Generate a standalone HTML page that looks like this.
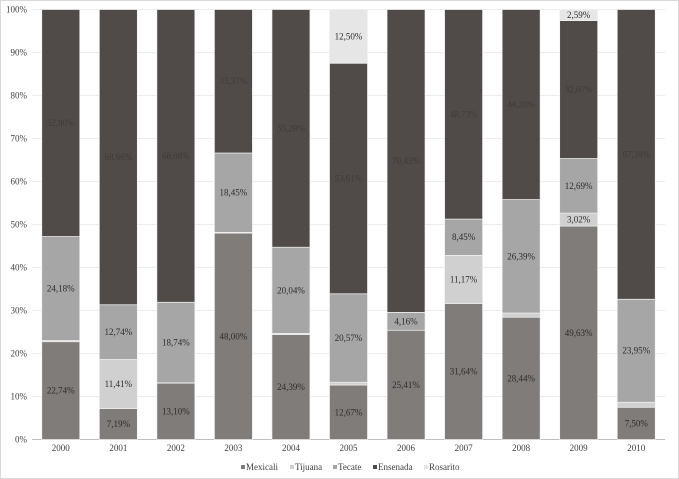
<!DOCTYPE html>
<html><head><meta charset="utf-8"><style>
body{margin:0;background:#fff}
svg{display:block;font-family:"Liberation Serif",serif}
</style></head><body>
<svg id="chart" width="679" height="479">
<rect x="0.5" y="0.5" width="678" height="478" fill="#fff" stroke="#d9d9d9"/>
<g id="grid"></g><g id="bars"></g><g id="labels"></g><g id="legend"></g>
</svg>
<script>
const years=["2000","2001","2002","2003","2004","2005","2006","2007","2008","2009","2010"];
const seriesNames=["Mexicali","Tijuana","Tecate","Ensenada","Rosarito"];
const mexicali=[22.74,7.19,13.10,48.00,24.39,12.67,25.41,31.64,28.44,49.63,7.50];
const tijuana=[0.28,11.41,0.08,0.18,0.29,0.65,0,11.17,0.97,3.02,1.17];
const tecate=[24.18,12.74,18.74,18.45,20.04,20.57,4.16,8.45,26.39,12.69,23.95];
const ensenada=[52.80,68.66,68.08,33.37,55.28,53.61,70.43,48.73,44.20,32.07,67.38];
const rosarito=[0,0,0,0,0,12.50,0,0,0,2.59,0];
const yTicks=[0,10,20,30,40,50,60,70,80,90,100];
const series=[mexicali,tijuana,tecate,ensenada,rosarito];
const colors=["#7f7c7a","#d0d0d0","#a6a6a6","#504b49","#e6e6e6"];
const textColors=["#2e2b2a","#2e2b2a","#2e2b2a","#3f3a38","#2e2b2a"];
const NS="http://www.w3.org/2000/svg";
const x0=32,x1=665,yTop=9.5,yBot=439.5;
const y=v=>yBot-(yBot-yTop)*v/100;
const band=(x1-x0)/years.length;
const bw=38;
const xc=i=>x0+band*(i+0.5);
function mk(tag,attrs,parent){const e=document.createElementNS(NS,tag);for(const k in attrs)e.setAttribute(k,attrs[k]);parent.appendChild(e);return e;}
const grid=document.getElementById('grid');
yTicks.forEach(t=>{
  const l=mk('line',{x1:x0,x2:x1,y1:y(t),y2:y(t),stroke:t===0?'#bfbfbf':'#ececec','stroke-width':1},grid);
  
  
  const tx=mk('text',{x:27,y:y(t)+3,'text-anchor':'end','font-size':9,fill:'#404040'},grid);
  tx.textContent=t+'%';
  
  
});
const bars=document.getElementById('bars'),labels=document.getElementById('labels');
years.forEach((yr,i)=>{
  let acc=0;
  series.forEach((s,k)=>{
    const v=s[i]; if(v<=0)return;
    const r=mk('rect',{x:xc(i)-bw/2,y:y(acc+v),width:bw,height:y(acc)-y(acc+v),fill:colors[k],stroke:'#f2f2f2','stroke-width':0.7},bars);
    
    
    if(v>=2){
      const t=mk('text',{x:xc(i),y:y(acc+v/2)+3,'text-anchor':'middle','font-size':9,fill:textColors[k]},labels);
      t.textContent=v.toFixed(2).replace('.',',')+'%';
      
      
    }
    acc+=v;
  });
  const t=mk('text',{x:xc(i),y:451,'text-anchor':'middle','font-size':9,fill:'#404040'},labels);
  t.textContent=yr;
  
  
});
const lg=document.getElementById('legend');
const lx=[241,290,333,373,424];
seriesNames.forEach((n,k)=>{
  const r=mk('rect',{x:lx[k],y:465,width:4,height:4,fill:colors[k]},lg);
  
  
  const t=mk('text',{x:lx[k]+5,y:470,'font-size':9,fill:'#404040'},lg);
  t.textContent=n;
  
  
});
</script>
</body></html>
